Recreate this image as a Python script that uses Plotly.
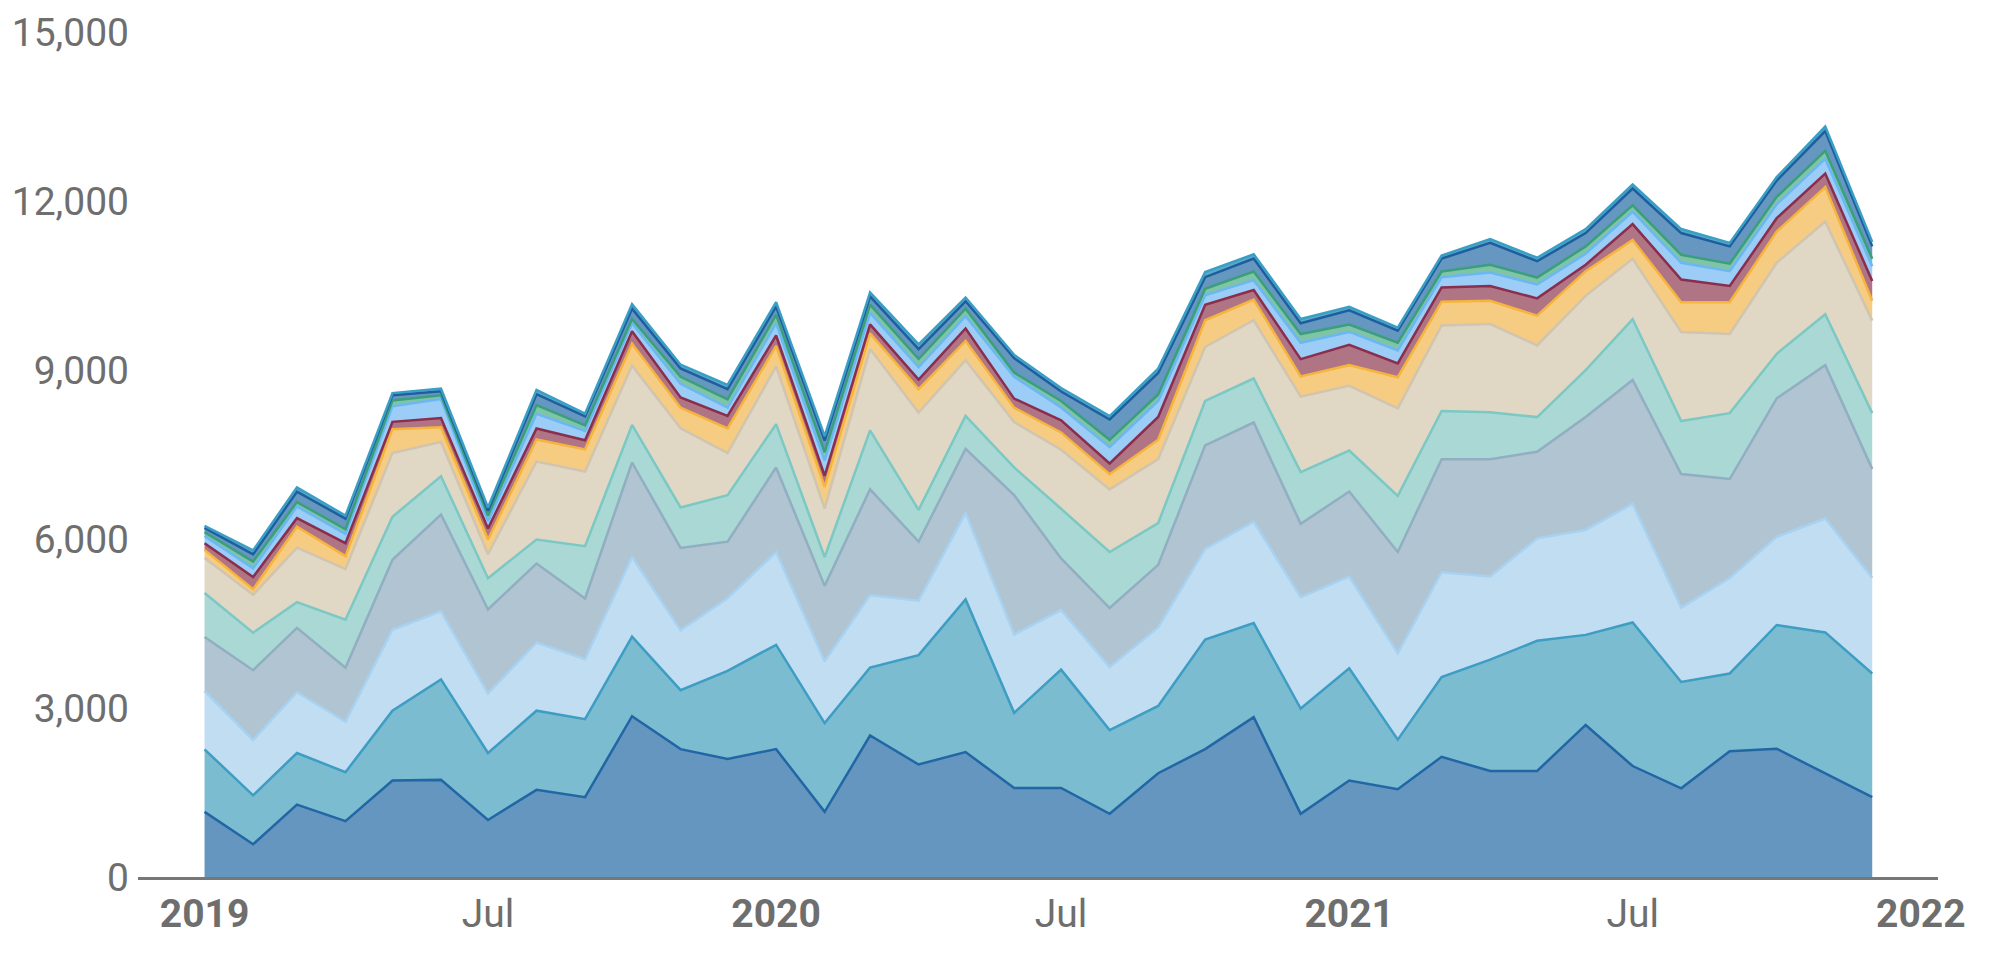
import plotly.graph_objects as go
import pandas as pd

months = pd.date_range("2019-01-01", "2021-12-01", freq="MS").strftime("%Y-%m-%d").tolist()

s1 = [1156, 581, 1286, 992, 1711, 1724, 1012, 1547, 1417, 2855, 2270, 2094,
      2270, 1157, 2511, 1998, 2218, 1581, 1581, 1122, 1842, 2270, 2837, 1122,
      1712, 1558, 2133, 1882, 1882, 2699, 1970, 1575, 2234, 2277, 1838, 1417]
s2 = [1110, 869, 915, 869, 1241, 1783, 1189, 1405, 1385, 1413, 1046, 1566,
      1852, 1574, 1208, 1941, 2709, 1333, 2099, 1486, 1194, 1946, 1670, 1868,
      1991, 881, 1416, 1977, 2311, 1599, 2548, 1888, 1379, 2197, 2504, 2196]
s3 = [1032, 979, 1078, 895, 1437, 1209, 1058, 1209, 1065, 1413, 1062, 1289,
      1647, 1098, 1281, 966, 1537, 1391, 1057, 1118, 1394, 1608, 1799, 1976,
      1631, 1532, 1861, 1476, 1818, 1863, 2108, 1318, 1695, 1563, 2021, 1695]
s4 = [961, 1242, 1143, 960, 1241, 1718, 1490, 1404, 1078, 1677, 1464, 1003,
      1501, 1339, 1882, 1047, 1135, 2474, 919, 1049, 1111, 1838, 1762, 1302,
      1508, 1799, 2007, 2082, 1538, 2003, 2196, 2372, 1757, 2460, 2723, 1933]
s5 = [784, 666, 457, 850, 765, 680, 555, 425, 927, 666, 718, 827,
      768, 513, 1047, 564, 586, 491, 880, 995, 742, 789, 781, 919,
      728, 996, 857, 834, 615, 834, 1081, 940, 1169, 791, 905, 993]
s6 = [620, 673, 967, 901, 1130, 607, 425, 1385, 1326, 1054, 1405, 747,
      1025, 857, 1442, 1728, 988, 805, 1049, 1111, 1134, 957, 1034, 1340,
      1149, 1554, 1517, 1564, 1273, 1318, 1072, 1581, 1405, 1616, 1643, 1642]
s7 = [144, 98, 373, 229, 425, 261, 261, 392, 393, 388, 366, 439,
      366, 388, 278, 417, 344, 256, 307, 268, 344, 475, 367, 360,
      367, 552, 421, 413, 527, 439, 333, 528, 563, 554, 614, 352]
s8 = [118, 216, 150, 229, 130, 164, 196, 196, 163, 220, 183, 220,
      184, 197, 161, 168, 220, 161, 214, 191, 406, 275, 169, 306,
      360, 245, 253, 263, 308, 114, 282, 404, 289, 237, 238, 351]
s9 = [130, 156, 209, 163, 275, 339, 131, 261, 163, 146, 242, 146,
      219, 271, 205, 220, 219, 388, 230, 291, 284, 169, 176, 291,
      230, 230, 183, 238, 246, 194, 219, 298, 264, 246, 263, 264]
s10 = [66, 118, 78, 85, 104, 66, 98, 151, 98, 73, 124, 147,
       146, 146, 146, 146, 132, 74, 115, 130, 115, 115, 153, 154,
       130, 137, 100, 140, 123, 131, 114, 141, 132, 132, 141, 132]
s11 = [78, 130, 183, 189, 92, 72, 84, 195, 163, 183, 147, 183,
       147, 206, 147, 176, 132, 256, 168, 360, 382, 206, 230, 191,
       253, 215, 230, 387, 290, 237, 299, 386, 307, 290, 351, 219]
s12 = [33, 70, 75, 53, 39, 45, 59, 75, 46, 80, 66, 73,
       80, 80, 70, 85, 66, 58, 61, 62, 77, 90, 76, 77,
       61, 53, 53, 70, 61, 71, 70, 71, 62, 61, 80, 80]

series = [s1, s2, s3, s4, s5, s6, s7, s8, s9, s10, s11, s12]
fills = ["#6596bf", "#7cbcd0", "#c1ddf2", "#b0c4d1", "#aad8d4", "#e0d8c5",
         "#f6cb82", "#b07585", "#9bcdf7", "#80c4a8", "#6597c0", "#5aaac8"]
lines = ["#2166a5", "#3d9dc3", "#a7d2f2", "#91aec2", "#7cc8c4", "#cfc5b0",
         "#f5b43c", "#8b2d4d", "#6bb7f2", "#3a9f7a", "#1f5e9e", "#3b9fc5"]

tick_vals = ["2019-01-01", "2019-07-01", "2020-01-01", "2020-07-01",
             "2021-01-01", "2021-07-01", "2022-01-01"]
tick_text = ["<b>2019</b>", "Jul", "<b>2020</b>", "Jul", "<b>2021</b>", "Jul", "<b>2022</b>"]
y_ticks = [0, 3000, 6000, 9000, 12000, 15000]

fig = go.Figure()
for vals, fc, lc in zip(series, fills, lines):
    fig.add_trace(go.Scatter(
        x=months, y=vals, mode="lines", stackgroup="one",
        fillcolor=fc, line=dict(color=lc, width=2.5),
        hoverinfo="x+y", showlegend=False,
    ))

fig.update_layout(
    width=1998, height=960,
    margin=dict(l=130, r=68, t=24, b=91),
    paper_bgcolor="white", plot_bgcolor="white",
    font=dict(family="Roboto", size=39, color="#6e6e6e"),
    xaxis=dict(
        type="date", automargin=False,
        range=["2018-11-19 12:00", "2022-01-12"],
        tickvals=tick_vals, ticktext=tick_text,
        showgrid=False, zeroline=False,
        showline=True, linecolor="#777777", linewidth=2.5,
        ticks="", ticklen=0,
        tickfont=dict(size=39, color="#6e6e6e"),
    ),
    yaxis=dict(
        range=[0, 15000], automargin=False,
        tickvals=y_ticks, tickformat=",",
        showgrid=False, zeroline=False, showline=False,
        ticks="", ticklabelstandoff=8, ticklabeloverflow="allow",
        tickfont=dict(size=39, color="#6e6e6e"),
    ),
)

fig.write_html("out.html", config={"displayModeBar": False})
